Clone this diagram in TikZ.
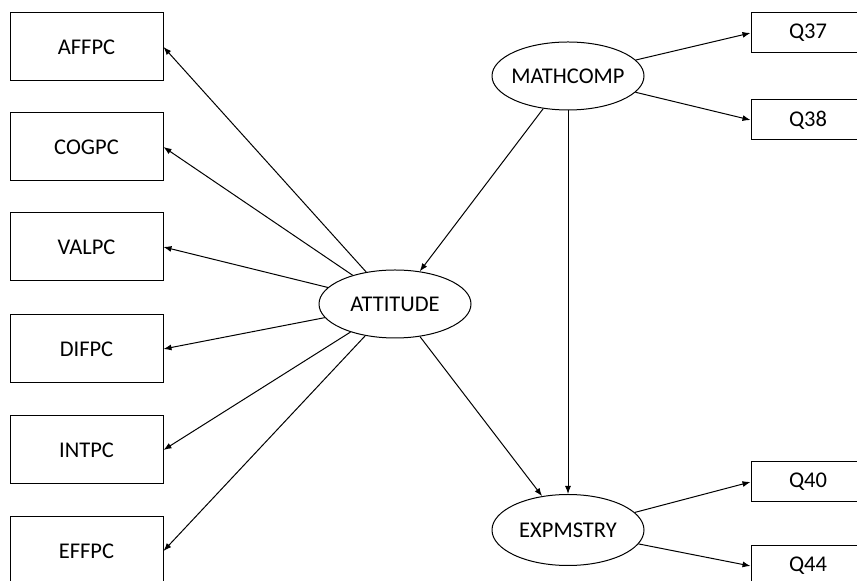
\documentclass[tikz,border=0pt]{standalone}
\usepackage{fontspec}
\setmainfont{Carlito}
\usetikzlibrary{arrows.meta,shapes.geometric}
\tikzset{
  indicator/.style={draw, rectangle, minimum width=76.5pt, minimum height=34pt, inner sep=0pt, font=\fontsize{11.25}{13}\selectfont},
  item/.style={draw, rectangle, minimum width=57pt, minimum height=20pt, inner sep=0pt, font=\fontsize{11.25}{13}\selectfont},
  latent/.style={draw, ellipse, minimum width=76pt, minimum height=34pt, inner ysep=0pt, inner xsep=-2pt, font=\fontsize{11.25}{13}\selectfont},
  link/.style={-{Latex[length=4pt,width=3pt]}}
}
\begin{document}
\begin{tikzpicture}[x=0.5pt, y=-0.5pt, line width=0.5pt]
  \useasboundingbox (0,0) rectangle (857,581);
  % latent variables
  \node[latent] (attitude) at (395,304) {ATTITUDE};
  \node[latent] (mathcomp) at (568,76) {MATHCOMP};
  \node[latent, minimum height=35.5pt] (expmstry) at (568,530) {EXPMSTRY};
  % indicators of ATTITUDE
  \node[indicator] (affpc) at (86.5,47) {AFFPC};
  \node[indicator] (cogpc) at (86.5,147) {COGPC};
  \node[indicator] (valpc) at (86.5,247) {VALPC};
  \node[indicator] (difpc) at (86.5,349) {DIFPC};
  \node[indicator] (intpc) at (86.5,450) {INTPC};
  \node[indicator] (effpc) at (86.5,551) {EFFPC};
  % items
  \node[item] (q37) at (808,33) {Q37};
  \node[item] (q38) at (808,120) {Q38};
  \node[item] (q40) at (808,482) {Q40};
  \node[item] (q44) at (808,566) {Q44};
  % paths
  \draw[link] (attitude) -- (affpc.east);
  \draw[link] (attitude) -- (cogpc.east);
  \draw[link] (attitude) -- (valpc.east);
  \draw[link] (attitude) -- (difpc.east);
  \draw[link] (attitude) -- (intpc.east);
  \draw[link] (attitude) -- (effpc.east);
  \draw[link] (mathcomp) -- (attitude);
  \draw[link] (mathcomp) -- (expmstry);
  \draw[link] (attitude) -- (expmstry);
  \draw[link] (mathcomp) -- (q37.west);
  \draw[link] (mathcomp) -- (q38.west);
  \draw[link] (expmstry) -- (q40.west);
  \draw[link] (expmstry) -- (q44.west);
\end{tikzpicture}
\end{document}
